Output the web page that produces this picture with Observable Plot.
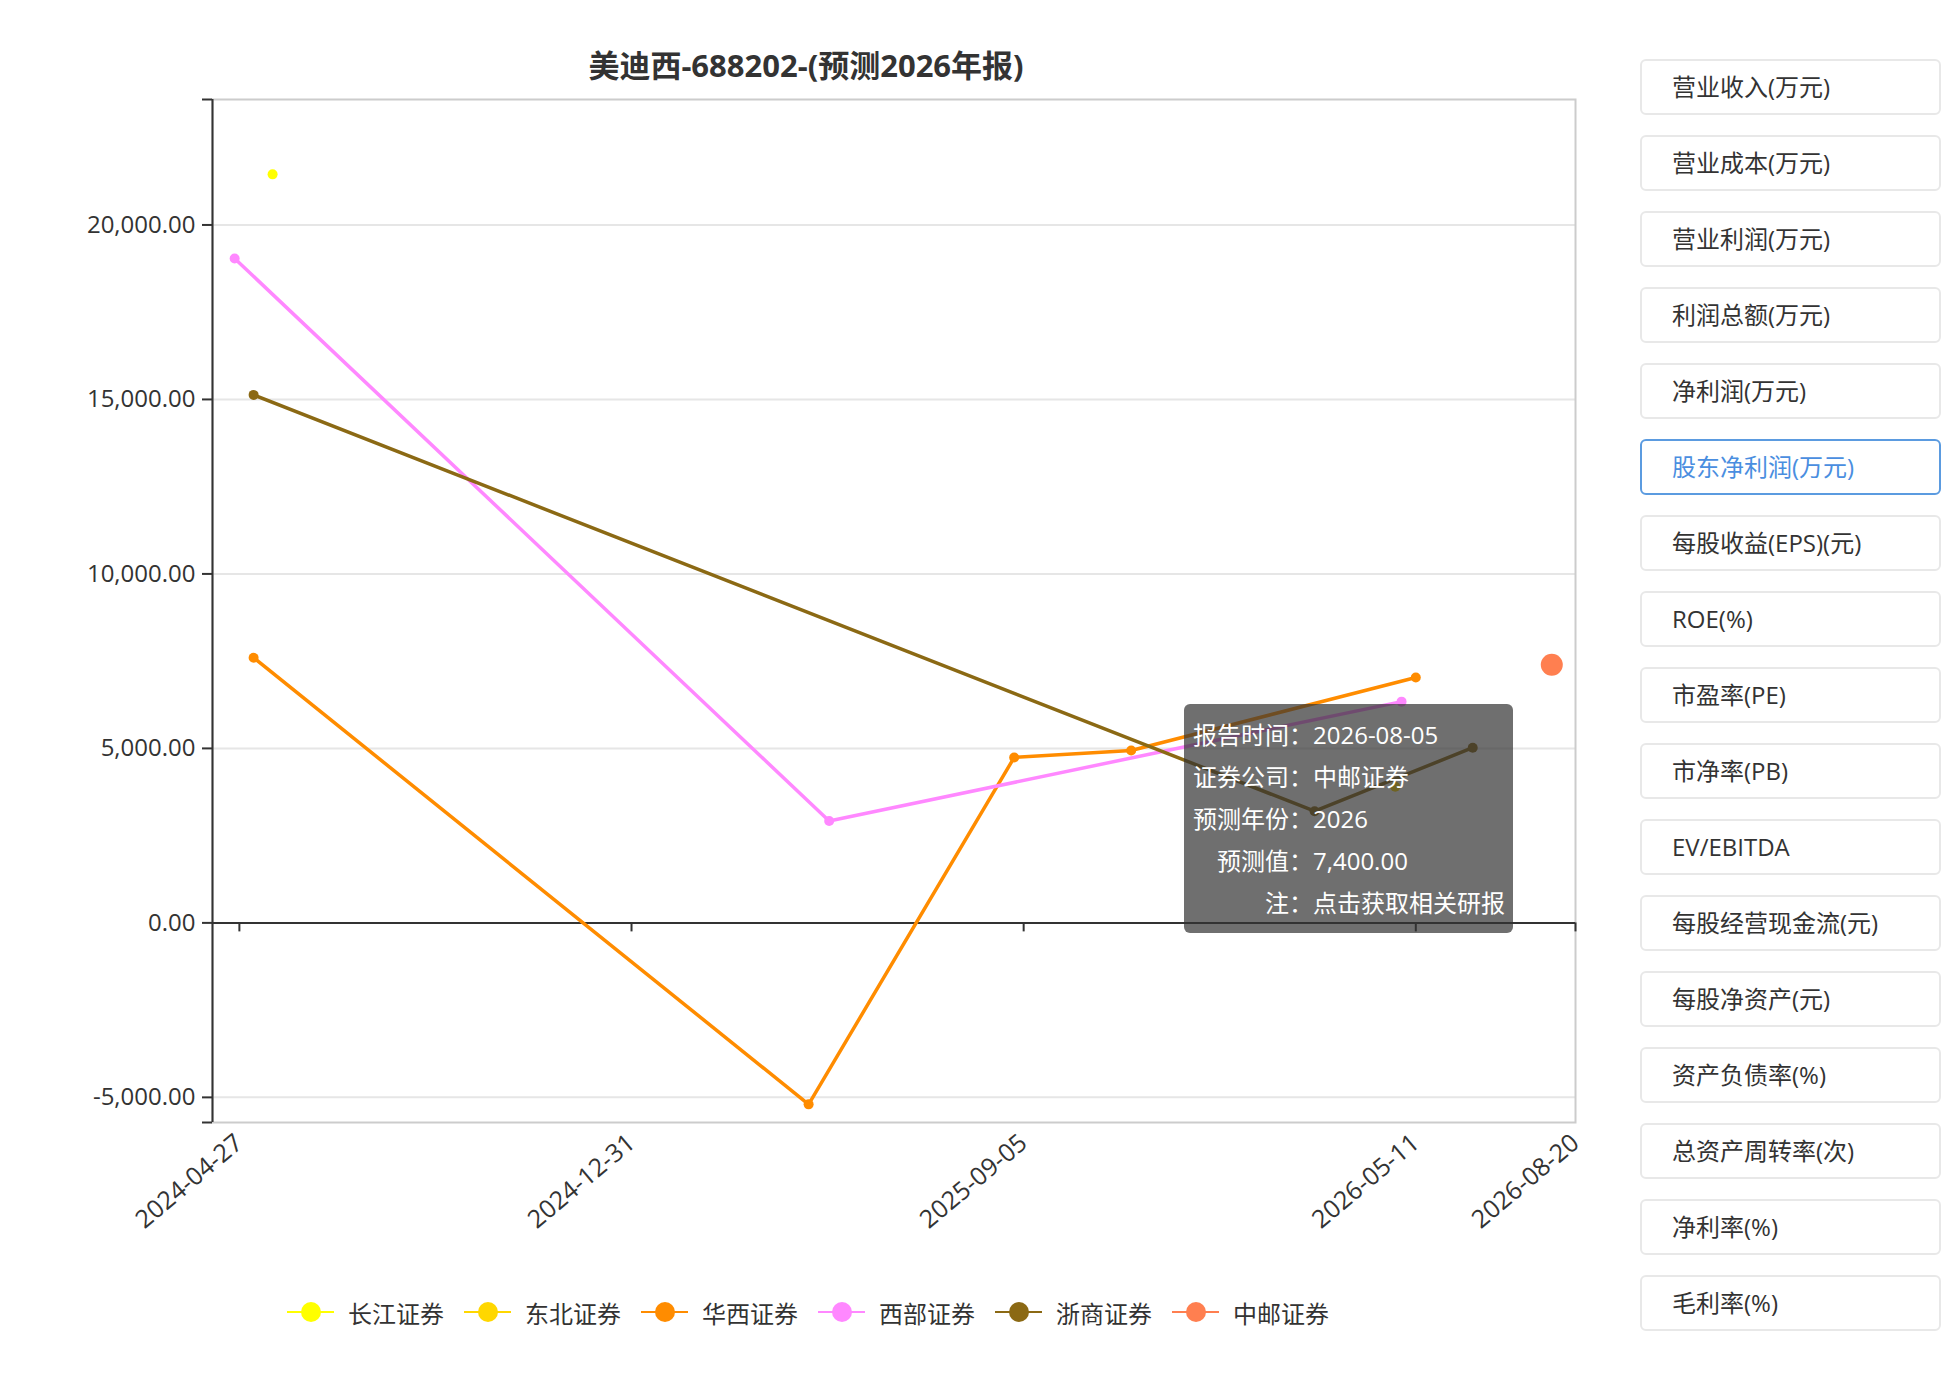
<!DOCTYPE html>
<html>
<head>
<meta charset="utf-8">
<script src="https://cdn.jsdelivr.net/npm/d3@7"></script>
<script src="https://cdn.jsdelivr.net/npm/@observablehq/plot@0.6"></script>
<style>
  html, body { margin: 0; padding: 0; background: #fff; }
  body { width: 1948px; height: 1386px; position: relative; overflow: hidden;
         font-family: "Open Sans", "Noto Sans CJK SC", sans-serif; color: #333; }
  #title { position: absolute; left: 0; top: 45px; width: 1612px; text-align: center;
           font-size: 31px; font-weight: bold; line-height: 40px; color: #333; }
  #chart { position: absolute; left: 0; top: 0; }
  #legend { position: absolute; left: 287px; top: 1292px; height: 40px; display: flex; align-items: center; }
  .li { display: flex; align-items: center; margin-right: 20px; font-size: 24px; color: #333; }
  .li svg { margin-right: 14px; }
  #tooltip { position: absolute; left: 1184px; top: 704px; width: 329px; height: 229px; box-sizing: border-box;
             padding: 10px 9px; background: rgba(50,50,50,0.7); border-radius: 6px; color: #fff;
             font-size: 24px; line-height: 42px; display: grid; grid-template-columns: 120px auto; }
  #tooltip .k { text-align: right; white-space: nowrap; }
  #tooltip .v { white-space: nowrap; }
  #side { position: absolute; left: 1640px; top: 59px; }
  .btn { box-sizing: border-box; width: 301px; height: 56px; margin-bottom: 20px; border: 2px solid #e8e8e8;
         border-radius: 6px; font-size: 24px; line-height: 52px; padding-left: 30px; color: #333; white-space: nowrap; }
  .btn.active { border-color: #5b9be0; color: #4a8ee0; }
</style>
</head>
<body>
<div id="title"></div>
<div id="chart"></div>
<div id="legend"></div>
<div id="tooltip"></div>
<div id="side"></div>
<script>
// ---- data ----
const titleText = "美迪西-688202-(预测2026年报)";
const brokers = ["长江证券", "东北证券", "华西证券", "西部证券", "浙商证券", "中邮证券"];
const colors  = ["#FFFF00", "#FFD700", "#FF8C00", "#FF88FF", "#8B6914", "#FF7F50"];

const changjiangDates = ["2024-05-18"];
const changjiangValues = [21450];
const dongbeiDates = ["2026-04-28"];
const dongbeiValues = [3900];
const huaxiDates = ["2024-05-06", "2025-04-22", "2025-08-30", "2025-11-12", "2026-05-11"];
const huaxiValues = [7600, -5200, 4740, 4940, 7030];
const xibuDates = ["2024-04-24", "2025-05-05", "2026-05-02"];
const xibuValues = [19040, 2920, 6340];
const zheshangDates = ["2024-05-06", "2026-03-08", "2026-06-16"];
const zheshangValues = [15130, 3200, 5020];
const zhongyouDates = ["2026-08-05"];
const zhongyouValues = [7400];

const xTickLabels = ["2024-04-27", "2024-12-31", "2025-09-05", "2026-05-11", "2026-08-20"];
const xStart = "2024-04-10";
const yTicks = [-5000, 0, 5000, 10000, 15000, 20000];

const sideButtons = ["营业收入(万元)", "营业成本(万元)", "营业利润(万元)", "利润总额(万元)", "净利润(万元)",
  "股东净利润(万元)", "每股收益(EPS)(元)", "ROE(%)", "市盈率(PE)", "市净率(PB)", "EV/EBITDA",
  "每股经营现金流(元)", "每股净资产(元)", "资产负债率(%)", "总资产周转率(次)", "净利率(%)", "毛利率(%)"];
const activeButton = "股东净利润(万元)";

const tooltipKeys = ["报告时间：", "证券公司：", "预测年份：", "预测值：", "注："];
const tooltipBroker = "中邮证券";
const tooltipYear = "2026";
const tooltipNote = "点击获取相关研报";

// ---- build rows ----
const seriesDates = [changjiangDates, dongbeiDates, huaxiDates, xibuDates, zheshangDates, zhongyouDates];
const seriesValues = [changjiangValues, dongbeiValues, huaxiValues, xibuValues, zheshangValues, zhongyouValues];
const rows = [];
brokers.forEach((b, i) => {
  seriesDates[i].forEach((d, j) => rows.push({broker: b, date: new Date(d), value: seriesValues[i][j]}));
});

const allValues = rows.map(d => d.value);
const yDomain = [d3.min(allValues) * 1.1, d3.max(allValues) * 1.1];
const xTicks = xTickLabels.map(d => new Date(d));
const xDomain = [new Date(xStart), xTicks[xTicks.length - 1]];
const fmt0 = d3.format(",.2f");
const fmt = v => fmt0(v).replace("\u2212", "-");

document.getElementById("title").textContent = titleText;

const chart = Plot.plot({
  width: 1600,
  height: 1260,
  marginLeft: 212,
  marginRight: 25,
  marginTop: 99,
  marginBottom: 138,
  style: {fontFamily: "'Open Sans', 'Noto Sans CJK SC', sans-serif", fontSize: "24px", color: "#333", background: "transparent", overflow: "visible"},
  x: {type: "utc", domain: xDomain},
  y: {domain: yDomain},
  color: {domain: brokers, range: colors},
  marks: [
    Plot.gridY(yTicks, {stroke: "#e6e6e6", strokeOpacity: 1, strokeWidth: 2}),
    Plot.frame({stroke: "#cccccc", strokeWidth: 2}),
    Plot.ruleY([0], {stroke: "#333", strokeWidth: 2}),
    Plot.ruleX([xDomain[0]], {stroke: "#333", strokeWidth: 2}),
    Plot.axisY({ticks: yTicks, tickFormat: fmt, tickSize: 10, tickPadding: 7, strokeWidth: 2, label: null}),
    Plot.axisY({ticks: yDomain, tickFormat: () => "", tickSize: 10, strokeWidth: 2, label: null}),
    Plot.ruleX(xTicks, {x: d => d, y1: 0, y2: 0, insetBottom: -9, stroke: "#333", strokeWidth: 2}),
    Plot.axisX({ticks: xTicks, tickFormat: d3.utcFormat("%Y-%m-%d"), tickSize: 0, tickPadding: 17, tickRotate: -40, fontSize: 25, label: null}),
    Plot.line(rows, {x: "date", y: "value", z: "broker", stroke: "broker", strokeWidth: 3.5}),
    Plot.dot(rows.filter(d => d.broker !== tooltipBroker), {x: "date", y: "value", fill: "broker", r: 5}),
    Plot.dot(rows.filter(d => d.broker === tooltipBroker), {x: "date", y: "value", fill: "broker", r: 11})
  ]
});
document.getElementById("chart").appendChild(chart);

// legend
const legend = document.getElementById("legend");
brokers.forEach((b, i) => {
  const item = document.createElement("div");
  item.className = "li";
  item.innerHTML = `<svg width="47" height="24"><line x1="0" x2="47" y1="12" y2="12" stroke="${colors[i]}" stroke-width="2"/><circle cx="24" cy="12" r="10" fill="${colors[i]}"/></svg><span>${b}</span>`;
  legend.appendChild(item);
});

// tooltip (hovered point)
const hovered = rows.find(d => d.broker === tooltipBroker);
const tipVals = [d3.utcFormat("%Y-%m-%d")(hovered.date), hovered.broker, tooltipYear, fmt(hovered.value), tooltipNote];
const tip = document.getElementById("tooltip");
tooltipKeys.forEach((k, i) => {
  const a = document.createElement("div"); a.className = "k"; a.textContent = k;
  const v = document.createElement("div"); v.className = "v"; v.textContent = tipVals[i];
  tip.appendChild(a); tip.appendChild(v);
});

// side buttons
const side = document.getElementById("side");
sideButtons.forEach(t => {
  const b = document.createElement("div");
  b.className = "btn" + (t === activeButton ? " active" : "");
  b.textContent = t;
  side.appendChild(b);
});
</script>
</body>
</html>
